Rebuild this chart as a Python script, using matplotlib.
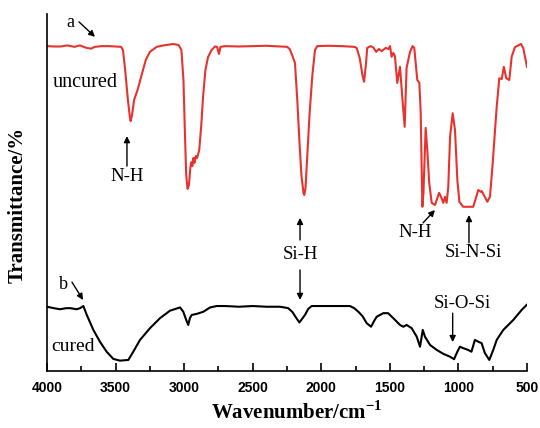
import matplotlib
matplotlib.use("Agg")
import matplotlib.pyplot as plt

# ---- data (transmittance in arbitrary units) ----
uncured_wn = [4000, 3950, 3900, 3850, 3800, 3760, 3720, 3680, 3650, 3600, 3550, 3500, 3460, 3446,
              3430, 3410, 3395, 3390, 3380, 3365, 3340, 3310, 3280, 3250, 3200, 3150, 3080, 3040,
              3020, 3005, 2995, 2985, 2975, 2965, 2955, 2948, 2940, 2932, 2925, 2915, 2905, 2890,
              2875, 2862, 2845, 2826, 2800, 2775, 2760, 2746, 2735, 2700, 2600, 2500, 2400, 2300,
              2250, 2230, 2210, 2192, 2175, 2160, 2145, 2130, 2124, 2115, 2100, 2085, 2065, 2046,
              2030, 1950, 1850, 1760, 1742, 1720, 1700, 1688, 1675, 1665, 1640, 1620, 1600, 1580,
              1560, 1530, 1510, 1499, 1487, 1475, 1463, 1446, 1426, 1409, 1392, 1378, 1353, 1334,
              1322, 1300, 1285, 1275, 1263, 1255, 1239, 1227, 1213, 1195, 1171, 1141, 1127, 1110,
              1098, 1086, 1074, 1061, 1042, 1025, 1008, 993, 965, 892, 855, 838, 830, 789, 770,
              750, 721, 702, 684, 669, 651, 629, 612, 588, 560, 544, 527, 500]
uncured_t = [91.0, 90.9, 90.9, 91.2, 90.8, 91.2, 90.6, 90.3, 90.8, 91.0, 91.0, 90.9, 90.8, 89.9,
             84.3, 75.9, 70.9, 70.0, 71.7, 75.9, 78.7, 82.9, 87.1, 89.4, 90.8, 91.2, 91.6, 91.3,
             89.9, 81.5, 67.5, 54.9, 51.0, 52.1, 56.9, 58.5, 57.4, 59.7, 58.3, 60.2, 59.7, 61.9,
             68.9, 76.8, 84.3, 87.9, 89.9, 90.9, 90.8, 88.8, 90.8, 91.0, 90.9, 91.0, 91.1, 90.9,
             90.8, 90.2, 88.2, 86.3, 75.9, 64.7, 54.9, 49.9, 49.3, 51.3, 61.9, 72.3, 82.9, 89.9,
             91.0, 91.1, 91.0, 90.8, 90.5, 87.7, 82.9, 81.0, 85.7, 90.5, 91.0, 90.6, 89.4, 90.2,
             89.6, 90.5, 90.2, 91.0, 88.0, 89.1, 88.2, 80.7, 85.2, 76.5, 68.4, 84.9, 89.4, 91.0,
             90.5, 81.5, 80.7, 72.3, 46.0, 49.9, 68.1, 61.9, 52.7, 47.1, 46.5, 49.9, 48.8, 47.1,
             48.8, 47.1, 51.6, 65.6, 72.2, 67.5, 53.5, 47.4, 46.0, 46.0, 50.7, 50.2, 50.4, 47.4, 48.8,
             58.3, 74.0, 82.0, 81.8, 85.2, 82.0, 81.5, 88.0, 90.7, 91.3, 91.6, 90.4, 85.2]

cured_wn = [4000, 3950, 3905, 3860, 3830, 3783, 3759, 3735, 3710, 3662, 3614, 3565, 3517, 3468,
            3407, 3371, 3322, 3249, 3176, 3103, 3030, 3006, 2985, 2970, 2958, 2945, 2908, 2860,
            2811, 2763, 2700, 2600, 2500, 2400, 2300, 2241, 2210, 2192, 2160, 2140, 2119, 2095,
            2070, 1950, 1850, 1791, 1760, 1730, 1700, 1669, 1637, 1615, 1596, 1548, 1513, 1475,
            1426, 1402, 1378, 1341, 1304, 1280, 1260, 1244, 1207, 1158, 1110, 1061, 1032, 1008,
            989, 965, 929, 905, 880, 855, 831, 807, 775, 746, 721, 673, 600, 539, 503]
cured_t = [18.0, 17.6, 17.3, 17.6, 17.6, 17.3, 17.6, 18.2, 15.7, 11.5, 8.2, 5.4, 3.4, 2.9,
           3.1, 5.4, 8.7, 12.0, 14.8, 16.9, 17.8, 16.6, 14.3, 12.9, 14.8, 15.7, 16.0, 16.6,
           17.8, 18.2, 18.2, 18.0, 18.2, 18.0, 18.0, 17.6, 16.5, 15.4, 13.6, 14.6, 15.7, 17.4,
           18.2, 18.2, 18.2, 18.2, 17.6, 16.6, 15.4, 13.4, 12.4, 14.0, 15.2, 16.2, 16.2, 14.8,
           12.9, 12.4, 12.9, 12.0, 9.6, 6.8, 11.5, 9.6, 7.3, 5.9, 4.8, 4.0, 3.3, 5.4,
           6.8, 6.4, 5.9, 5.4, 8.7, 8.2, 7.8, 5.0, 3.1, 5.9, 8.7, 11.5, 14.3, 17.1, 18.5]

xticks = [4000, 3500, 3000, 2500, 2000, 1500, 1000, 500]

SERIF = ["Liberation Serif", "DejaVu Serif"]
SANS = ["Liberation Sans", "DejaVu Sans"]
plt.rcParams["mathtext.fontset"] = "custom"
plt.rcParams["mathtext.rm"] = "Liberation Serif:bold"
plt.rcParams["mathtext.bf"] = "Liberation Serif:bold"

fig = plt.figure(figsize=(5.4, 4.28), dpi=100)
ax = fig.add_axes([47 / 540, 57 / 428, 480 / 540, 357 / 428])

ax.plot(uncured_wn, uncured_t, color="#e8322e", lw=1.5, solid_joinstyle="round")
ax.plot(cured_wn, cured_t, color="black", lw=1.5, solid_joinstyle="round")

ax.set_xlim(4000, 500)
ax.set_ylim(0, 100)
ax.spines["top"].set_visible(False)
ax.spines["right"].set_visible(False)
for s in ("left", "bottom"):
    ax.spines[s].set_linewidth(1.2)
ax.set_yticks([])
ax.set_xticks(xticks)
ax.set_xticks([3750, 3250, 2750, 2250, 1750, 1250, 750], minor=True)
ax.tick_params(axis="x", which="major", direction="in", length=6, width=1.2, pad=7)
ax.tick_params(axis="x", which="minor", direction="in", length=3.5, width=1.2)
for lab in ax.get_xticklabels():
    lab.set_fontfamily(SANS)
    lab.set_fontweight("bold")
    lab.set_fontsize(10)

ax.set_xlabel(r"Wavenumber/cm$^{\mathbf{-1}}$", fontsize=15, fontweight="bold", family=SERIF)
ax.xaxis.set_label_coords(0.521, -0.084)
ax.set_ylabel("Transmittance/%", fontsize=15, fontweight="bold", family=SERIF)
ax.yaxis.set_label_coords(-0.04, 0.465)

tk = dict(family=SERIF, color="black")
arw = dict(arrowstyle="-|>", color="black", lw=1.0, mutation_scale=9, shrinkA=0, shrinkB=0)

# labels a / b
ax.text(3832, 97.5, "a", fontsize=13, ha="center", va="center", **tk)
ax.annotate("", xy=(3650, 93.6), xytext=(3767, 97.8), arrowprops=arw)
ax.text(3883, 24.1, "b", fontsize=13, ha="center", va="center", **tk)
ax.annotate("", xy=(3737, 19.9), xytext=(3818, 24.9), arrowprops=arw)

ax.text(3956, 80.7, "uncured", fontsize=14.5, ha="left", va="center", **tk)
ax.text(3966, 7.0, "cured", fontsize=14, ha="left", va="center", **tk)

# N-H (first)
ax.text(3417, 54.4, "N-H", fontsize=13.5, ha="center", va="center", **tk)
ax.annotate("", xy=(3417, 65.8), xytext=(3417, 57.4), arrowprops=arw)

# Si-H
ax.text(2155, 32.5, "Si-H", fontsize=13.5, ha="center", va="center", **tk)
ax.annotate("", xy=(2155, 42.9), xytext=(2155, 36.7), arrowprops=arw)
ax.annotate("", xy=(2155, 19.9), xytext=(2155, 28.3), arrowprops=arw)

# N-H (second)
ax.text(1317, 38.7, "N-H", fontsize=13.5, ha="center", va="center", **tk)
ax.annotate("", xy=(1171, 45.1), xytext=(1258, 41.5), arrowprops=arw)

# Si-N-Si
ax.text(894, 33.3, "Si-N-Si", fontsize=13.5, ha="center", va="center", **tk)
ax.annotate("", xy=(923, 43.7), xytext=(923, 35.9), arrowprops=arw)

# Si-O-Si
ax.text(974, 19.0, "Si-O-Si", fontsize=13.5, ha="center", va="center", **tk)
ax.annotate("", xy=(1042, 8.1), xytext=(1042, 16.2), arrowprops=arw)

fig.savefig("out.png", dpi=100)
